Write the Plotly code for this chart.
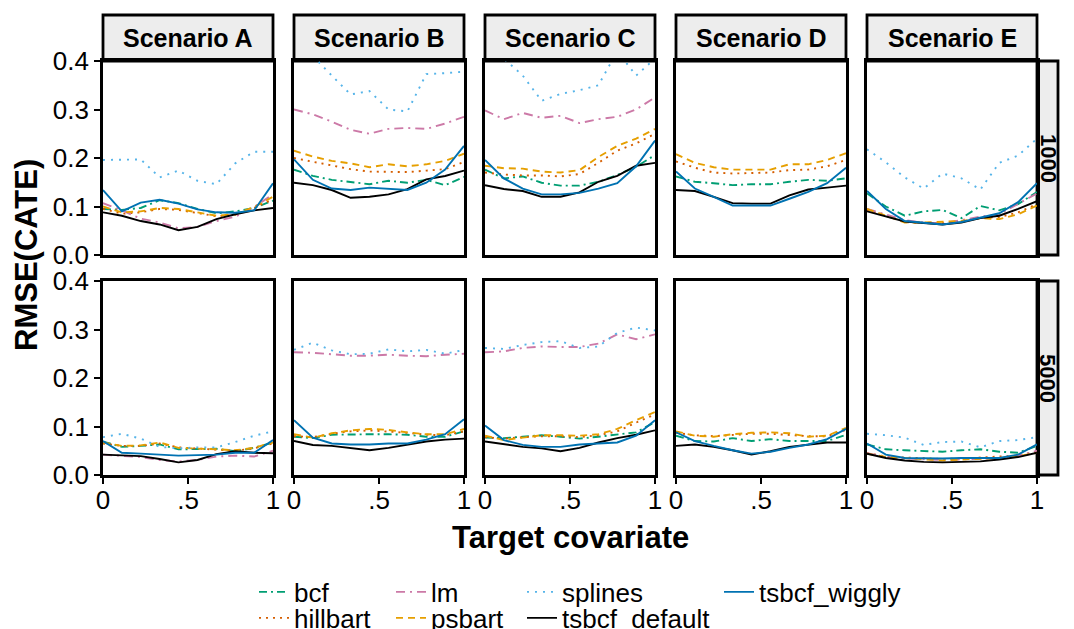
import plotly.graph_objects as go

W, H = 1074, 629

# ---------------- data ----------------
x_grid = [0.0, 0.111, 0.222, 0.333, 0.444, 0.556, 0.667, 0.778, 0.889, 1.0]
scenarios = ["Scenario A", "Scenario B", "Scenario C", "Scenario D", "Scenario E"]
sample_sizes = ["1000", "5000"]
methods = ["bcf", "hillbart", "lm", "psbart", "splines", "tsbcf_default", "tsbcf_wiggly"]
y_ticks = [0.0, 0.1, 0.2, 0.3, 0.4]
y_tick_labels = ["0.0", "0.1", "0.2", "0.3", "0.4"]
x_ticks = [0.0, 0.5, 1.0]
x_tick_labels = ["0", ".5", "1"]
NA = [None] * 10

# n = 1000 (one list per scenario A..E)
bcf_1000 = [
    [0.095, 0.093, 0.097, 0.113, 0.107, 0.095, 0.086, 0.090, 0.097, 0.112],
    [0.176, 0.163, 0.155, 0.151, 0.146, 0.153, 0.149, 0.155, 0.144, 0.161],
    [0.176, 0.158, 0.162, 0.149, 0.143, 0.143, 0.151, 0.165, 0.182, 0.206],
    [0.162, 0.151, 0.148, 0.144, 0.146, 0.146, 0.151, 0.155, 0.153, 0.158],
    [0.127, 0.100, 0.081, 0.090, 0.093, 0.076, 0.101, 0.092, 0.105, 0.130],
]
hillbart_1000 = [
    [0.095, 0.085, 0.088, 0.095, 0.093, 0.086, 0.080, 0.083, 0.097, 0.115],
    [0.200, 0.192, 0.185, 0.177, 0.172, 0.172, 0.171, 0.174, 0.177, 0.192],
    [0.170, 0.166, 0.164, 0.164, 0.162, 0.167, 0.190, 0.215, 0.230, 0.250],
    [0.193, 0.180, 0.170, 0.168, 0.169, 0.170, 0.175, 0.176, 0.183, 0.196],
    [0.093, 0.080, 0.068, 0.066, 0.066, 0.070, 0.077, 0.078, 0.088, 0.105],
]
lm_1000 = [
    [0.107, 0.092, 0.075, 0.067, 0.055, 0.058, 0.070, 0.079, 0.099, 0.125],
    [0.300, 0.290, 0.275, 0.258, 0.250, 0.260, 0.262, 0.260, 0.271, 0.285],
    [0.298, 0.280, 0.293, 0.283, 0.287, 0.272, 0.280, 0.285, 0.300, 0.325],
    NA,
    [0.095, 0.084, 0.072, 0.067, 0.065, 0.072, 0.079, 0.084, 0.106, 0.127],
]
psbart_1000 = [
    [0.100, 0.088, 0.090, 0.097, 0.095, 0.088, 0.081, 0.084, 0.099, 0.120],
    [0.215, 0.203, 0.194, 0.189, 0.181, 0.187, 0.183, 0.187, 0.194, 0.209],
    [0.184, 0.179, 0.178, 0.172, 0.170, 0.175, 0.202, 0.225, 0.240, 0.260],
    [0.208, 0.190, 0.181, 0.176, 0.176, 0.176, 0.187, 0.187, 0.196, 0.210],
    [0.095, 0.081, 0.067, 0.067, 0.068, 0.070, 0.076, 0.074, 0.084, 0.102],
]
splines_1000 = [
    [0.196, 0.196, 0.197, 0.160, 0.174, 0.153, 0.146, 0.189, 0.213, 0.213],
    [0.440, 0.410, 0.370, 0.331, 0.338, 0.300, 0.296, 0.373, 0.375, 0.378],
    [0.430, 0.405, 0.370, 0.318, 0.332, 0.340, 0.350, 0.420, 0.370, 0.405],
    NA,
    [0.218, 0.191, 0.160, 0.137, 0.168, 0.158, 0.135, 0.190, 0.205, 0.240],
]
tsbcf_default_1000 = [
    [0.088, 0.081, 0.070, 0.063, 0.051, 0.058, 0.074, 0.084, 0.092, 0.097],
    [0.149, 0.144, 0.134, 0.118, 0.120, 0.125, 0.136, 0.156, 0.163, 0.174],
    [0.144, 0.136, 0.132, 0.120, 0.120, 0.129, 0.151, 0.163, 0.184, 0.190],
    [0.134, 0.132, 0.120, 0.107, 0.106, 0.106, 0.123, 0.135, 0.139, 0.143],
    [0.090, 0.079, 0.069, 0.066, 0.063, 0.067, 0.076, 0.081, 0.095, 0.111],
]
tsbcf_wiggly_1000 = [
    [0.134, 0.090, 0.108, 0.114, 0.106, 0.094, 0.088, 0.087, 0.092, 0.148],
    [0.197, 0.155, 0.137, 0.134, 0.139, 0.137, 0.134, 0.149, 0.176, 0.225],
    [0.196, 0.158, 0.137, 0.125, 0.125, 0.128, 0.137, 0.148, 0.183, 0.236],
    [0.172, 0.137, 0.120, 0.102, 0.102, 0.102, 0.116, 0.130, 0.148, 0.180],
    [0.132, 0.095, 0.070, 0.066, 0.063, 0.068, 0.077, 0.086, 0.109, 0.148],
]

# n = 5000
bcf_5000 = [
    [0.069, 0.058, 0.060, 0.063, 0.053, 0.053, 0.054, 0.049, 0.056, 0.067],
    [0.079, 0.076, 0.083, 0.084, 0.084, 0.084, 0.083, 0.079, 0.079, 0.090],
    [0.077, 0.076, 0.079, 0.082, 0.079, 0.075, 0.079, 0.083, 0.088, 0.109],
    [0.081, 0.070, 0.069, 0.076, 0.070, 0.074, 0.070, 0.070, 0.070, 0.083],
    [0.063, 0.053, 0.051, 0.049, 0.048, 0.051, 0.053, 0.048, 0.046, 0.060],
]
hillbart_5000 = [
    [0.065, 0.060, 0.060, 0.065, 0.057, 0.055, 0.053, 0.050, 0.055, 0.065],
    [0.080, 0.078, 0.085, 0.090, 0.092, 0.090, 0.087, 0.083, 0.082, 0.090],
    [0.078, 0.075, 0.078, 0.080, 0.080, 0.078, 0.082, 0.090, 0.108, 0.125],
    [0.087, 0.082, 0.080, 0.082, 0.085, 0.085, 0.083, 0.080, 0.080, 0.093],
    [0.045, 0.038, 0.036, 0.035, 0.033, 0.034, 0.036, 0.037, 0.040, 0.048],
]
lm_5000 = [
    [0.042, 0.040, 0.037, 0.031, 0.028, 0.031, 0.038, 0.040, 0.038, 0.050],
    [0.253, 0.252, 0.249, 0.246, 0.246, 0.248, 0.246, 0.245, 0.248, 0.250],
    [0.253, 0.255, 0.262, 0.265, 0.264, 0.264, 0.271, 0.290, 0.280, 0.290],
    NA,
    [0.045, 0.037, 0.034, 0.032, 0.031, 0.032, 0.033, 0.035, 0.040, 0.050],
]
psbart_5000 = [
    [0.067, 0.060, 0.061, 0.067, 0.056, 0.055, 0.053, 0.051, 0.056, 0.067],
    [0.084, 0.077, 0.086, 0.092, 0.095, 0.093, 0.088, 0.084, 0.084, 0.095],
    [0.081, 0.072, 0.077, 0.082, 0.082, 0.081, 0.084, 0.095, 0.113, 0.130],
    [0.090, 0.081, 0.079, 0.084, 0.087, 0.088, 0.086, 0.079, 0.081, 0.097],
    [0.044, 0.037, 0.035, 0.032, 0.030, 0.032, 0.034, 0.035, 0.039, 0.046],
]
splines_5000 = [
    [0.078, 0.085, 0.075, 0.058, 0.055, 0.057, 0.057, 0.068, 0.081, 0.090],
    [0.258, 0.273, 0.257, 0.249, 0.250, 0.259, 0.255, 0.258, 0.250, 0.258],
    [0.262, 0.260, 0.268, 0.274, 0.276, 0.262, 0.265, 0.293, 0.304, 0.298],
    NA,
    [0.085, 0.082, 0.077, 0.062, 0.068, 0.069, 0.057, 0.070, 0.072, 0.078],
]
tsbcf_default_5000 = [
    [0.042, 0.041, 0.039, 0.033, 0.026, 0.031, 0.043, 0.049, 0.046, 0.045],
    [0.070, 0.062, 0.060, 0.056, 0.051, 0.056, 0.063, 0.069, 0.073, 0.075],
    [0.069, 0.063, 0.058, 0.055, 0.049, 0.056, 0.067, 0.076, 0.083, 0.092],
    [0.060, 0.063, 0.058, 0.051, 0.042, 0.049, 0.058, 0.063, 0.067, 0.067],
    [0.044, 0.035, 0.030, 0.027, 0.026, 0.027, 0.028, 0.032, 0.037, 0.046],
]
tsbcf_wiggly_5000 = [
    [0.070, 0.046, 0.044, 0.042, 0.040, 0.041, 0.042, 0.046, 0.046, 0.072],
    [0.113, 0.077, 0.065, 0.063, 0.063, 0.065, 0.065, 0.073, 0.084, 0.115],
    [0.102, 0.072, 0.062, 0.058, 0.058, 0.063, 0.065, 0.067, 0.081, 0.113],
    [0.088, 0.070, 0.060, 0.051, 0.044, 0.048, 0.056, 0.063, 0.074, 0.095],
    [0.065, 0.042, 0.035, 0.034, 0.034, 0.035, 0.035, 0.035, 0.042, 0.063],
]

series = {
    ("bcf", "1000"): bcf_1000, ("bcf", "5000"): bcf_5000,
    ("hillbart", "1000"): hillbart_1000, ("hillbart", "5000"): hillbart_5000,
    ("lm", "1000"): lm_1000, ("lm", "5000"): lm_5000,
    ("psbart", "1000"): psbart_1000, ("psbart", "5000"): psbart_5000,
    ("splines", "1000"): splines_1000, ("splines", "5000"): splines_5000,
    ("tsbcf_default", "1000"): tsbcf_default_1000, ("tsbcf_default", "5000"): tsbcf_default_5000,
    ("tsbcf_wiggly", "1000"): tsbcf_wiggly_1000, ("tsbcf_wiggly", "5000"): tsbcf_wiggly_5000,
}

# ---------------- styles ----------------
FONT = "Liberation Sans, Arial, Helvetica, sans-serif"
styles = {
    "bcf": dict(color="#009E73", dash="8px,4px,2px,4px"),
    "hillbart": dict(color="#D55E00", dash="2px,5px"),
    "lm": dict(color="#CC79A7", dash="9px,5px,2px,5px"),
    "psbart": dict(color="#E69F00", dash="7px,5px"),
    "splines": dict(color="#56B4E9", dash="2px,6px"),
    "tsbcf_default": dict(color="#000000", dash="solid"),
    "tsbcf_wiggly": dict(color="#0072B2", dash="solid"),
}
# legend placement: (legend id, text-start x px, center y px)
legend_place = {
    "bcf": ("legend", 294, 592),
    "hillbart": ("legend2", 294, 618),
    "lm": ("legend3", 431, 592),
    "psbart": ("legend4", 431, 618),
    "splines": ("legend5", 562, 592),
    "tsbcf_default": ("legend6", 562, 618),
    "tsbcf_wiggly": ("legend7", 759, 592),
}

col_left = [103, 294, 485, 676, 867]
panel_w = 170
row_top = [61, 281]
panel_h = 194

fig = go.Figure()

def fx(p):
    return p / W

def fy(p):
    return 1 - p / H

for r, n in enumerate(sample_sizes):
    for c, sc in enumerate(scenarios):
        k = r * 5 + c + 1
        xa = "x" if k == 1 else f"x{k}"
        ya = "y" if k == 1 else f"y{k}"
        for m in methods:
            st = styles[m]
            first = (r == 0 and c == 0)
            fig.add_trace(go.Scatter(
                x=x_grid, y=series[(m, n)][c], mode="lines",
                name=m, legend=legend_place[m][0],
                showlegend=first, xaxis=xa, yaxis=ya,
                line=dict(color=st["color"], dash=st["dash"], width=1.9),
                connectgaps=False, hoverinfo="skip",
            ))
        axis_common = dict(showline=True, mirror=True, linecolor="black", linewidth=2.8,
                           showgrid=False, zeroline=False,
                           tickfont=dict(family=FONT, size=26, color="black"),
                           ticklen=6, tickwidth=2, tickcolor="black")
        xkey = "xaxis" if k == 1 else f"xaxis{k}"
        ykey = "yaxis" if k == 1 else f"yaxis{k}"
        fig.layout[xkey] = dict(
            domain=[fx(col_left[c]), fx(col_left[c] + panel_w)], anchor=ya,
            range=[0, 1], tickvals=x_ticks, ticktext=x_tick_labels,
            ticklabelstandoff=-6,
            ticks="outside" if r == 1 else "", showticklabels=(r == 1), **axis_common)
        fig.layout[ykey] = dict(
            domain=[fy(row_top[r] + panel_h), fy(row_top[r])], anchor=xa,
            range=[0, 0.4], tickvals=y_ticks, ticktext=y_tick_labels,
            ticks="outside" if c == 0 else "", showticklabels=(c == 0), **axis_common)

shapes = []
annotations = []
# top strips
for c, sc in enumerate(scenarios):
    shapes.append(dict(type="rect", xref="paper", yref="paper",
                       x0=fx(col_left[c]), x1=fx(col_left[c] + panel_w),
                       y0=fy(61), y1=fy(15), fillcolor="#EDEDED",
                       line=dict(color="black", width=2.8), layer="below"))
    annotations.append(dict(text=f"<b>{sc}</b>", xref="paper", yref="paper",
                            x=fx(col_left[c] + panel_w / 2), y=fy(38), showarrow=False,
                            xanchor="center", yanchor="middle",
                            font=dict(family=FONT, size=25, color="black")))
# right strips
for r, n in enumerate(sample_sizes):
    shapes.append(dict(type="rect", xref="paper", yref="paper",
                       x0=fx(1037), x1=fx(1058),
                       y0=fy(row_top[r] + panel_h), y1=fy(row_top[r]), fillcolor="#EDEDED",
                       line=dict(color="black", width=2.8), layer="below"))
    annotations.append(dict(text=f"<b>{n}</b>", xref="paper", yref="paper",
                            x=fx(1048), y=fy(row_top[r] + panel_h / 2), showarrow=False,
                            textangle=90, xanchor="center", yanchor="middle",
                            font=dict(family=FONT, size=22, color="black")))
# axis titles
annotations.append(dict(text="<b>RMSE(CATE)</b>", xref="paper", yref="paper",
                        x=fx(26), y=fy(255), showarrow=False, textangle=-90,
                        xanchor="center", yanchor="middle",
                        font=dict(family=FONT, size=31, color="black")))
annotations.append(dict(text="<b>Target covariate</b>", xref="paper", yref="paper",
                        x=fx(570), y=fy(537), showarrow=False,
                        xanchor="center", yanchor="middle",
                        font=dict(family=FONT, size=31, color="black")))

layout_legends = {}
for m, (lid, tx, cy) in legend_place.items():
    layout_legends[lid] = dict(
        x=fx(tx - 40), y=fy(cy), xanchor="left", yanchor="middle",
        orientation="v", bgcolor="rgba(0,0,0,0)", borderwidth=0,
        font=dict(family=FONT, size=26, color="black"), itemwidth=30,
        tracegroupgap=0)

fig.update_layout(
    width=W, height=H,
    margin=dict(l=0, r=0, t=0, b=0, autoexpand=False),
    paper_bgcolor="white", plot_bgcolor="white",
    shapes=shapes, annotations=annotations,
    font=dict(family=FONT, color="black"),
    **layout_legends,
)

fig.write_html("out.html")
